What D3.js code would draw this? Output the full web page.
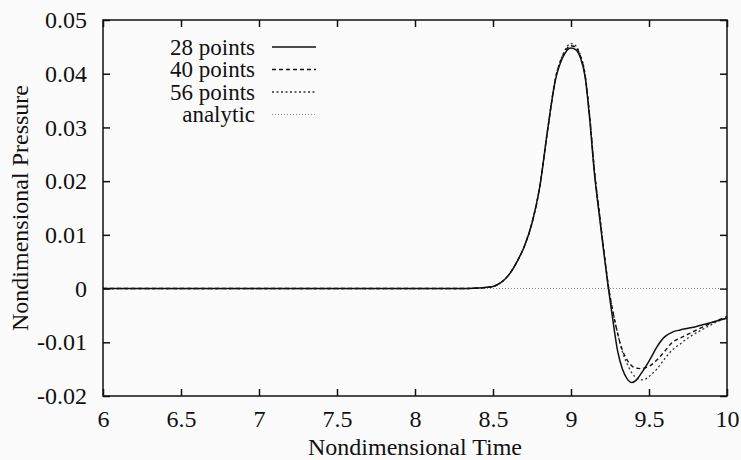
<!DOCTYPE html>
<html>
<head>
<meta charset="utf-8">
<script src="https://cdn.jsdelivr.net/npm/d3@7"></script>
<style>
  html, body { margin: 0; padding: 0; background: #fbfbfb; }
  svg { display: block; }
</style>
</head>
<body>
<svg id="chart" width="741" height="460"></svg>
<script>
// ---- data ----
const time = [6, 7, 8, 8.3, 8.4, 8.45, 8.5, 8.55, 8.6, 8.65, 8.7, 8.75, 8.8, 8.85, 8.9, 8.95, 9.0,
  9.03, 9.06, 9.09, 9.12, 9.15, 9.18, 9.21, 9.24, 9.27, 9.30, 9.33, 9.36, 9.39, 9.42, 9.45, 9.48,
  9.51, 9.55, 9.6, 9.65, 9.7, 9.75, 9.8, 9.85, 9.9, 9.95, 10];

const p28 = [0, 0, 0, 0, 0.0001, 0.0002, 0.0004, 0.0011, 0.0025, 0.0048, 0.0078, 0.0122, 0.0190, 0.0295, 0.0388, 0.0432, 0.0448,
  0.0445, 0.0430, 0.0395, 0.0315, 0.0215, 0.0140, 0.0068, 0.0000, -0.0062, -0.0118, -0.0150, -0.0168, -0.0175, -0.0170, -0.0158, -0.0145,
  -0.0130, -0.0109, -0.0090, -0.0081, -0.0077, -0.0074, -0.0071, -0.0067, -0.0063, -0.0059, -0.0055];

const p40 = [0, 0, 0, 0, 0.0001, 0.0002, 0.0004, 0.0011, 0.0025, 0.0048, 0.0078, 0.0122, 0.0190, 0.0295, 0.0390, 0.0435, 0.0452,
  0.0449, 0.0433, 0.0398, 0.0320, 0.0220, 0.0145, 0.0072, 0.0004, -0.0045, -0.0085, -0.0115, -0.0133, -0.0144, -0.0148, -0.0149, -0.0147,
  -0.0143, -0.0133, -0.0117, -0.0100, -0.0092, -0.0085, -0.0078, -0.0071, -0.0064, -0.0058, -0.0052];

const p56 = [0, 0, 0, 0, 0.0001, 0.0002, 0.0004, 0.0011, 0.0025, 0.0048, 0.0078, 0.0122, 0.0190, 0.0295, 0.0391, 0.0437, 0.0456,
  0.0452, 0.0435, 0.0400, 0.0322, 0.0222, 0.0146, 0.0073, 0.0004, -0.0045, -0.0085, -0.0118, -0.0140, -0.0157, -0.0166, -0.0170, -0.0168,
  -0.0161, -0.0150, -0.0131, -0.0114, -0.0103, -0.0092, -0.0083, -0.0075, -0.0067, -0.0060, -0.0054];

const analytic = [0, 0, 0, 0, 0, 0, 0, 0, 0, 0, 0, 0, 0, 0, 0, 0, 0,
  0, 0, 0, 0, 0, 0, 0, 0, 0, 0, 0, 0, 0, 0, 0, 0,
  0, 0, 0, 0, 0, 0, 0, 0, 0, 0, 0];

const seriesNames = ["28 points", "40 points", "56 points", "analytic"];
const xTicks = [6, 6.5, 7, 7.5, 8, 8.5, 9, 9.5, 10];
const xTickLabels = ["6", "6.5", "7", "7.5", "8", "8.5", "9", "9.5", "10"];
const yTicks = [-0.02, -0.01, 0, 0.01, 0.02, 0.03, 0.04, 0.05];
const yTickLabels = ["-0.02", "-0.01", "0", "0.01", "0.02", "0.03", "0.04", "0.05"];

// ---- layout ----
const FONT = "'Liberation Serif'";
const svg = d3.select("#chart");
const L = 103, R = 727, T = 20, B = 396;

const x = d3.scaleLinear().domain([6, 10]).range([L, R]);
const y = d3.scaleLinear().domain([-0.02, 0.05]).range([B, T]);

const styles = [
  { dash: null, width: 1.5, color: "#111" },
  { dash: "4,3", width: 1.4, color: "#111" },
  { dash: "2,2.5", width: 1.3, color: "#333" },
  { dash: "1,2", width: 1.1, color: "#888" }
];
const values = [p28, p40, p56, analytic];

// frame
svg.append("rect").attr("x", L).attr("y", T).attr("width", R - L).attr("height", B - T)
  .attr("fill", "none").attr("stroke", "#111").attr("stroke-width", 1.5);

const tl = 7;
const fmtX = d => xTickLabels[xTicks.indexOf(d)];
const fmtY = d => yTickLabels[yTicks.indexOf(d)];

const xAxisB = d3.axisBottom(x).tickValues(xTicks).tickSizeInner(-tl).tickSizeOuter(0).tickPadding(14).tickFormat(fmtX);
const xAxisT = d3.axisTop(x).tickValues(xTicks).tickSizeInner(-tl).tickSizeOuter(0).tickFormat("");
const yAxisL = d3.axisLeft(y).tickValues(yTicks).tickSizeInner(-tl).tickSizeOuter(0).tickPadding(16).tickFormat(fmtY);
const yAxisR = d3.axisRight(y).tickValues(yTicks).tickSizeInner(-tl).tickSizeOuter(0).tickFormat("");

function styleAxis(g) {
  g.select(".domain").remove();
  g.selectAll(".tick line").attr("stroke", "#111").attr("stroke-width", 1.5);
  g.selectAll(".tick text").attr("fill", "#111")
    .style("font-family", FONT).style("font-size", "24px");
}
svg.append("g").attr("transform", `translate(0,${B})`).call(xAxisB).call(styleAxis);
svg.append("g").attr("transform", `translate(0,${T})`).call(xAxisT).call(styleAxis);
svg.append("g").attr("transform", `translate(${L},0)`).call(yAxisL).call(styleAxis);
svg.append("g").attr("transform", `translate(${R},0)`).call(yAxisR).call(styleAxis);

// titles
svg.append("text").attr("x", (L + R) / 2).attr("y", 455).attr("text-anchor", "middle")
  .attr("fill", "#111").style("font-family", FONT).style("font-size", "24px").text("Nondimensional Time");
svg.append("text").attr("transform", `translate(28,${(T + B) / 2}) rotate(-90)`)
  .attr("text-anchor", "middle").attr("fill", "#111")
  .style("font-family", FONT).style("font-size", "24px").text("Nondimensional Pressure");

// lines (draw analytic first, then numerical)
const line = d3.line().x(d => x(d[0])).y(d => y(d[1])).curve(d3.curveMonotoneX);
svg.append("clipPath").attr("id", "clip").append("rect")
  .attr("x", L).attr("y", T).attr("width", R - L).attr("height", B - T);
const plotG = svg.append("g").attr("clip-path", "url(#clip)");
[3, 2, 1, 0].forEach(i => {
  const pts = time.map((t, k) => [t, values[i][k]]);
  plotG.append("path").datum(pts).attr("d", line)
    .attr("fill", "none").attr("stroke", styles[i].color)
    .attr("stroke-width", styles[i].width)
    .attr("stroke-dasharray", styles[i].dash);
});

// legend
const legY0 = 47, legDy = 22.5;
seriesNames.forEach((name, i) => {
  const yy = legY0 + i * legDy;
  svg.append("text").attr("x", 255).attr("y", yy).attr("dy", "0.33em")
    .attr("text-anchor", "end").attr("fill", "#111")
    .style("font-family", FONT).style("font-size", "23px").text(name);
  svg.append("line").attr("x1", 272).attr("x2", 316).attr("y1", yy).attr("y2", yy)
    .attr("stroke", styles[i].color).attr("stroke-width", styles[i].width)
    .attr("stroke-dasharray", styles[i].dash);
});
</script>
</body>
</html>
